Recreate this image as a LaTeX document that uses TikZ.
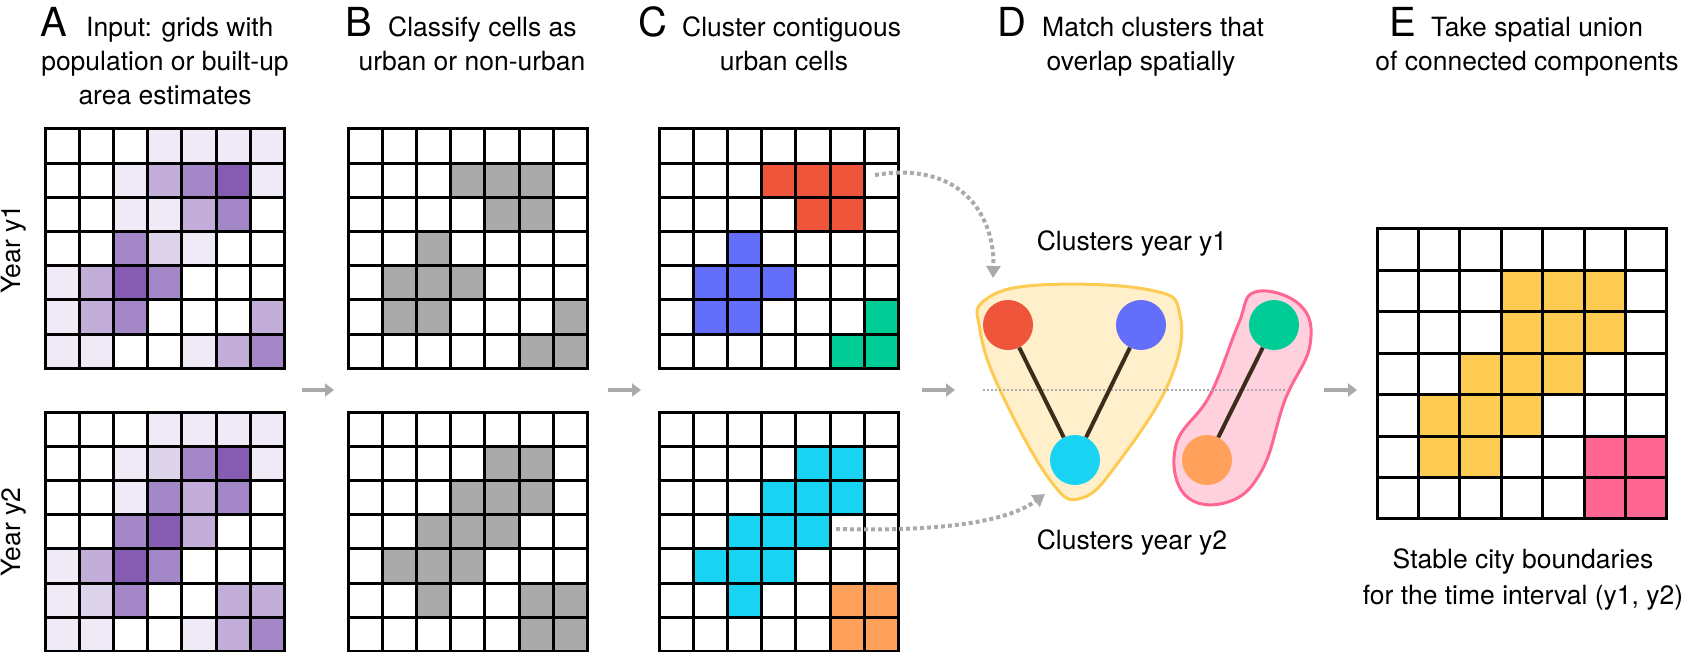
\documentclass[tikz,border=0pt]{standalone}
\usepackage{fontspec}
\setmainfont{TeX Gyre Heros}
\usetikzlibrary{positioning,arrows.meta}

\definecolor{p0}{HTML}{FFFFFF}
\definecolor{p1}{HTML}{EFEAF5}
\definecolor{p2}{HTML}{DDD3EA}
\definecolor{p3}{HTML}{C3AEDA}
\definecolor{p4}{HTML}{A387C6}
\definecolor{p5}{HTML}{855CB1}
\definecolor{gy}{HTML}{AAAAAA}
\definecolor{rd}{HTML}{EE553A}
\definecolor{bl}{HTML}{636EFA}
\definecolor{gn}{HTML}{00CC96}
\definecolor{cy}{HTML}{19D3F3}
\definecolor{og}{HTML}{FFA15A}
\definecolor{yl}{HTML}{FECB52}
\definecolor{pk}{HTML}{FF6692}
\definecolor{edgecol}{HTML}{3A2E1A}

\tikzset{
  cell/.style={draw=black, line width=3pt},
  step arrow/.style={-{Triangle[length=9pt,width=13pt]}, draw=gy, line width=4.5pt},
  link arrow/.style={-{Triangle[length=12pt,width=14pt]}, draw=gy, line width=4pt, dash pattern=on 4pt off 3pt},
  cluster/.style={circle, minimum size=50pt, inner sep=0pt},
  edge/.style={draw=edgecol, line width=4pt},
  head/.style={font=\fontsize{40}{40}\selectfont, anchor=base west, inner sep=0pt},
  txt/.style={font=\fontsize{26.5}{34}\selectfont, anchor=base, inner sep=0pt, align=center},
}

% #1,#2 top left, #3 cell size, #4 rows of colours
\newcommand{\cellgrid}[4]{%
  \foreach \row [count=\r from 0] in {#4} {
    \foreach \v [count=\c from 0] in \row {
      \filldraw[cell, fill=\v] ({#1+\c*#3},{#2+\r*#3}) rectangle ++(#3,#3);
    }
  }
}

\begin{document}
\begin{tikzpicture}[x=1pt, y=-1pt]
\useasboundingbox (0,0) rectangle (1700,652);

% headings
\node[head] (hA) at (40,37) {A};
\node[txt, anchor=base west] (tA) at (86,37) {Input: grids with};
\node[txt] at (165,71) {population or built-up};
\node[txt] at (165,105) {area estimates};
\node[head] (hB) at (345,37) {B};
\node[txt, anchor=base west] (tB) at (388,37) {Classify cells as};
\node[txt] at (472,71) {urban or non-urban};
\node[head] (hC) at (638,37) {C};
\node[txt, anchor=base west] (tC) at (682,37) {Cluster contiguous};
\node[txt] at (784,71) {urban cells};
\node[head] (hD) at (997,37) {D};
\node[txt, anchor=base west] (tD) at (1042,37) {Match clusters that};
\node[txt] at (1141,71) {overlap spatially};
\node[head] (hE) at (1389,37) {E};
\node[txt, anchor=base west] (tE) at (1431,37) {Take spatial union};
\node[txt] at (1527,71) {of connected components};

\node[txt, anchor=center, rotate=90] (yr1) at (14,249) {Year y1};
\node[txt, anchor=center, rotate=90] (yr2) at (14,532) {Year y2};

% A: input grids
\cellgrid{45}{129}{34.2}{{p0,p0,p0,p1,p1,p1,p1},{p0,p0,p1,p3,p4,p5,p1},{p0,p0,p1,p1,p3,p4,p0},{p0,p0,p4,p2,p1,p0,p0},{p1,p3,p5,p4,p0,p0,p0},{p1,p3,p4,p0,p0,p0,p3},{p1,p1,p0,p0,p1,p3,p4}}
\cellgrid{45}{412}{34.2}{{p0,p0,p0,p1,p1,p1,p1},{p0,p0,p1,p2,p4,p5,p1},{p0,p0,p1,p4,p3,p4,p0},{p0,p0,p4,p5,p3,p0,p0},{p1,p3,p5,p4,p0,p0,p0},{p1,p2,p4,p0,p0,p3,p3},{p1,p1,p0,p0,p1,p3,p4}}

% B: urban classification
\cellgrid{348}{129}{34.2}{{p0,p0,p0,p0,p0,p0,p0},{p0,p0,p0,gy,gy,gy,p0},{p0,p0,p0,p0,gy,gy,p0},{p0,p0,gy,p0,p0,p0,p0},{p0,gy,gy,gy,p0,p0,p0},{p0,gy,gy,p0,p0,p0,gy},{p0,p0,p0,p0,p0,gy,gy}}
\cellgrid{348}{412}{34.2}{{p0,p0,p0,p0,p0,p0,p0},{p0,p0,p0,p0,gy,gy,p0},{p0,p0,p0,gy,gy,gy,p0},{p0,p0,gy,gy,gy,p0,p0},{p0,gy,gy,gy,p0,p0,p0},{p0,p0,gy,p0,p0,gy,gy},{p0,p0,p0,p0,p0,gy,gy}}

% C: clusters
\cellgrid{659}{129}{34.2}{{p0,p0,p0,p0,p0,p0,p0},{p0,p0,p0,rd,rd,rd,p0},{p0,p0,p0,p0,rd,rd,p0},{p0,p0,bl,p0,p0,p0,p0},{p0,bl,bl,bl,p0,p0,p0},{p0,bl,bl,p0,p0,p0,gn},{p0,p0,p0,p0,p0,gn,gn}}
\cellgrid{659}{412}{34.2}{{p0,p0,p0,p0,p0,p0,p0},{p0,p0,p0,p0,cy,cy,p0},{p0,p0,p0,cy,cy,cy,p0},{p0,p0,cy,cy,cy,p0,p0},{p0,cy,cy,cy,p0,p0,p0},{p0,p0,cy,p0,p0,og,og},{p0,p0,p0,p0,p0,og,og}}

% E: union
\cellgrid{1377}{229}{41.4}{{p0,p0,p0,p0,p0,p0,p0},{p0,p0,p0,yl,yl,yl,p0},{p0,p0,p0,yl,yl,yl,p0},{p0,p0,yl,yl,yl,p0,p0},{p0,yl,yl,yl,p0,p0,p0},{p0,yl,yl,p0,p0,pk,pk},{p0,p0,p0,p0,p0,pk,pk}}

% D: matching graph
\draw[draw=yl, line width=3pt, fill=yl!30] plot[smooth cycle, tension=0.7] coordinates
  {(985,300) (1040,285) (1150,290) (1180,315) (1170,380) (1120,460) (1082,498) (1050,480) (1000,390) (980,330)};
\draw[draw=pk, line width=3pt, fill=pk!30] plot[smooth cycle, tension=0.7] coordinates
  {(1255,292) (1300,305) (1310,345) (1285,400) (1262,470) (1228,502) (1185,495) (1176,445) (1210,395) (1238,325)};
\coordinate (mL) at (983,390);
\coordinate (mR) at (1286,390);
\draw[gy, line width=1.5pt, dash pattern=on 2pt off 2pt] (mL) -- (mR);

\node[cluster, fill=rd] (nr) at (1008,325) {};
\node[cluster, fill=bl] (nb) at (1141,325) {};
\node[cluster, fill=cy] (nc) at (1075,460) {};
\node[cluster, fill=gn] (ng) at (1274,325) {};
\node[cluster, fill=og] (no) at (1207,460) {};
\draw[edge] (nr) -- (nc);
\draw[edge] (nb) -- (nc);
\draw[edge] (ng) -- (no);

\node[txt] (ly1) at (1132,251) {Clusters year y1};
\node[txt] (ly2) at (1132,549) {Clusters year y2};
\node[txt] (ls1) at (1523,568) {Stable city boundaries};
\node[txt] (ls2) at (1523,604) {for the time interval (y1, y2)};

% dotted links from clusters to graph
\coordinate (t1) at (875,175);
\coordinate (t2) at (993,278);
\draw[link arrow] (t1) .. controls (965,160) and (995,220) .. (t2);
\coordinate (b1) at (836,529);
\coordinate (b2) at (1045,494);
\draw[link arrow] (b1) .. controls (950,532) and (1010,520) .. (b2);

% step arrows
\foreach \xa/\xb [count=\i] in {302/334, 608/641, 922/955, 1324/1357} {
  \coordinate (sa\i) at (\xa,390);
  \coordinate (sb\i) at (\xb,390);
  \draw[step arrow] (sa\i) -- (sb\i);
}
\end{tikzpicture}
\end{document}
